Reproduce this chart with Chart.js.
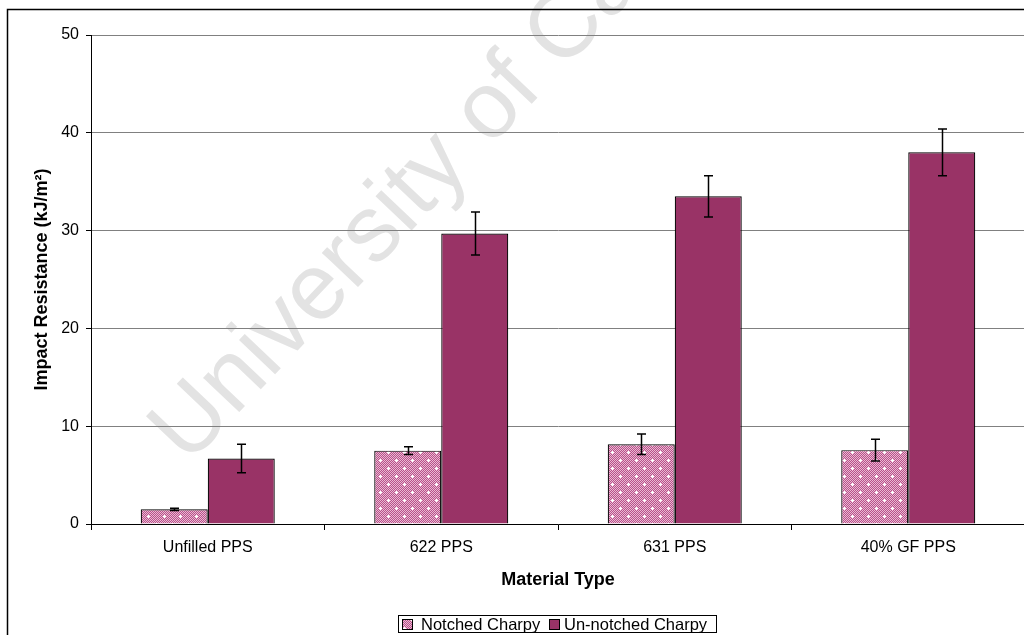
<!DOCTYPE html>
<html>
<head>
<meta charset="utf-8">
<script src="https://cdn.jsdelivr.net/npm/chart.js@4"></script>
<style>
  html, body { margin: 0; padding: 0; background: #fff; overflow: hidden; }
  #wrap { width: 1034px; height: 635px; }
</style>
</head>
<body>
<div id="wrap"><canvas id="impactChart" width="1034" height="635"></canvas></div>
<script>
// impact test results per material
const categories = ['Unfilled PPS', '622 PPS', '631 PPS', '40% GF PPS'];
const notched = [1.5, 7.5, 8.15, 7.55];
const notchedErr = [0.12, 0.4, 1.05, 1.12];
const unnotched = [6.7, 29.7, 33.5, 38.0];
const unnotchedErr = [1.45, 2.2, 2.1, 2.4];
const seriesNames = ['Notched Charpy', 'Un-notched Charpy'];
const yMin = 0, yMax = 50, yStep = 10;

const FONT = 'Arial, "Liberation Sans", sans-serif';
const PLUM = '#993366';

// pink checker tile with white sparkles for the notched bars
function makePattern() {
  const c = document.createElement('canvas');
  c.width = 16; c.height = 16;
  const g = c.getContext('2d');
  for (let y = 0; y < 16; y++) {
    for (let x = 0; x < 16; x++) {
      g.fillStyle = (x + y) % 2 ? '#b8508a' : '#eab9d2';
      g.fillRect(x, y, 1, 1);
    }
  }
  g.fillStyle = '#ffffff';
  [[4, 4], [12, 12]].forEach(([x, y]) => {
    g.fillRect(x, y - 1, 1, 3);
    g.fillRect(x - 1, y, 3, 1);
  });
  return g.createPattern(c, 'repeat');
}
const pinkPattern = makePattern();

// frame, watermark and legend box
const decorations = {
  id: 'decorations',
  beforeDraw(chart) {
    const ctx = chart.ctx;
    ctx.save();
    ctx.translate(188, 466);
    ctx.rotate(-46.5 * Math.PI / 180);
    ctx.font = '94px ' + FONT;
    ctx.fillStyle = '#e3e3e3';
    ctx.textBaseline = 'alphabetic';
    ctx.fillText('University of Cape Town', 0, 0);
    ctx.restore();

    ctx.save();
    ctx.strokeStyle = '#000';
    ctx.lineWidth = 1.5;
    ctx.beginPath();
    ctx.moveTo(7.5, 700);
    ctx.lineTo(7.5, 9.5);
    ctx.lineTo(1100, 9.5);
    ctx.stroke();
    ctx.restore();
  },
  afterDraw(chart) {
    const ctx = chart.ctx;
    ctx.save();
    ctx.strokeStyle = '#000';
    ctx.lineWidth = 1;
    ctx.strokeRect(398.5, 615.5, 318, 17);
    ctx.font = '16.5px ' + FONT;
    ctx.textBaseline = 'middle';
    const fills = [pinkPattern, PLUM];
    const boxX = [402, 549];
    const textX = [421, 564];
    seriesNames.forEach((name, i) => {
      ctx.fillStyle = fills[i];
      ctx.fillRect(boxX[i], 619, 11, 11);
      ctx.strokeRect(boxX[i] + 0.5, 619.5, 10, 10);
      ctx.fillStyle = '#000';
      ctx.fillText(name, textX[i], 625);
    });
    ctx.restore();
  }
};

// error bars from the y scale
const errorBars = {
  id: 'errorBars',
  afterDatasetsDraw(chart) {
    const ctx = chart.ctx;
    const yScale = chart.scales.y;
    const errs = [notchedErr, unnotchedErr];
    ctx.save();
    ctx.strokeStyle = '#000';
    ctx.lineWidth = 1.5;
    chart.data.datasets.forEach((ds, di) => {
      chart.getDatasetMeta(di).data.forEach((bar, i) => {
        const v = ds.data[i], e = errs[di][i];
        const top = yScale.getPixelForValue(v + e);
        const bot = yScale.getPixelForValue(v - e);
        const x = Math.round(bar.x) + 0.5;
        ctx.beginPath();
        ctx.moveTo(x, top); ctx.lineTo(x, bot);
        ctx.moveTo(x - 4.5, top); ctx.lineTo(x + 4.5, top);
        ctx.moveTo(x - 4.5, bot); ctx.lineTo(x + 4.5, bot);
        ctx.stroke();
      });
    });
    ctx.restore();
  }
};

new Chart(document.getElementById('impactChart'), {
  type: 'bar',
  data: {
    labels: categories,
    datasets: [
      {
        label: seriesNames[0],
        data: notched,
        backgroundColor: pinkPattern,
        borderColor: '#000',
        borderWidth: 1.2
      },
      {
        label: seriesNames[1],
        data: unnotched,
        backgroundColor: PLUM,
        borderColor: '#000',
        borderWidth: 1.2
      }
    ]
  },
  options: {
    responsive: false,
    animation: false,
    datasets: { bar: { categoryPercentage: 0.574, barPercentage: 1 } },
    layout: { padding: { left: 0, top: 35, right: 9, bottom: 0 } },
    plugins: {
      legend: { display: false },
      tooltip: { enabled: false }
    },
    scales: {
      x: {
        offset: true,
        grid: { offset: true, drawOnChartArea: false, drawTicks: true, tickLength: 6, tickColor: '#000' },
        border: { color: '#000', width: 1 },
        ticks: { color: '#000', font: { family: FONT, size: 16 }, padding: 8, maxRotation: 0 },
        title: { display: true, text: 'Material Type', color: '#000', font: { family: FONT, size: 18, weight: 'bold' }, padding: { bottom: 44 } },
        afterFit(scale) {
          scale.height = 111;
          scale.paddingLeft = 0;
          scale.paddingRight = 0;
        }
      },
      y: {
        min: yMin,
        max: yMax,
        grid: { color: '#808080', lineWidth: 1, tickLength: 5, tickColor: '#000' },
        border: { color: '#000', width: 1 },
        ticks: { stepSize: yStep, color: '#000', font: { family: FONT, size: 16 }, padding: 7 },
        title: { display: true, text: 'Impact Resistance (kJ/m²)', color: '#000', font: { family: FONT, size: 18, weight: 'bold' }, padding: { top: 31 } },
        afterFit(scale) {
          scale.width = 91;
          scale.paddingTop = 0;
          scale.paddingBottom = 0;
        }
      }
    }
  },
  plugins: [decorations, errorBars]
});
</script>
</body>
</html>
